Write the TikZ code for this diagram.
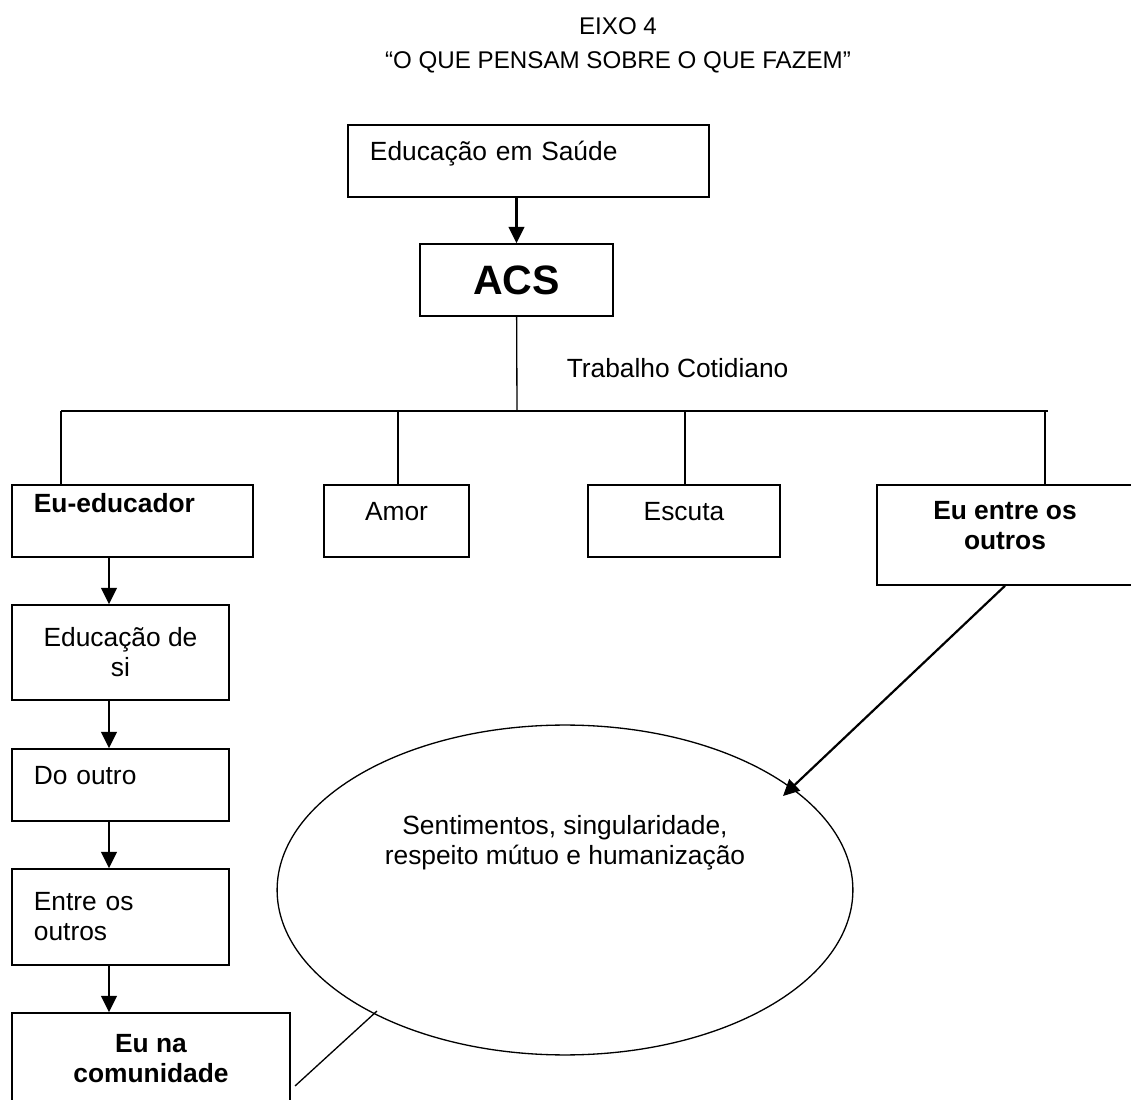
\documentclass[tikz,border=0pt]{standalone}
\usepackage{fontspec}
\setmainfont{Liberation Sans}
\usetikzlibrary{arrows.meta,shapes.geometric}

\begin{document}
\begin{tikzpicture}[x=0.016cm,y=-0.016cm,
    every node/.style={font=\fontsize{12}{13.7}\selectfont},
    box/.style={draw,line width=0.75pt,inner xsep=0.35cm,inner ysep=0pt,minimum height=1.152cm},
    upper/.style={text height=0.3cm,text depth=0.3cm},
    arr/.style={-{Triangle[length=0.26cm,width=0.25cm]},line width=1pt},
    tree/.style={line width=0.6pt}]
  \useasboundingbox (0,0) rectangle (1131,1100);

  % title
  \node (eixo) at (618,26) {\fontsize{11}{13}\selectfont EIXO 4};
  \node (tema) at (618,62) {\fontsize{11}{13}\selectfont “O QUE PENSAM SOBRE O QUE FAZEM”};

  % top of the tree
  \node[box,upper,align=left,text width=5.076cm] (saude) at (528.5,161) {Educação em Saúde};
  \node[box,minimum width=3.088cm] (acs) at (516.5,280) {\fontsize{18.7}{22}\selectfont\bfseries ACS};
  \node[anchor=west] (trab) at (559,368) {Trabalho Cotidiano};

  % second row
  \node[box,align=left,text width=3.156cm,text height=0.2cm,text depth=0.456cm] (educador) at (132.5,521) {\bfseries Eu-educador};
  \node[box,upper,minimum width=2.32cm] (amor) at (396.5,521) {Amor};
  \node[box,upper,minimum width=3.072cm] (escuta) at (684,521) {Escuta};
  \node[box,align=center,minimum width=4.096cm,minimum height=1.6cm,text height=0.784cm,text depth=0.304cm] (entre) at (1005,535) {\bfseries Eu entre os\\\bfseries outros};

  % left column
  \node[box,align=center,minimum width=3.472cm,minimum height=1.52cm] (educsi) at (120.5,652.5) {Educação de\\si};
  \node[box,upper,align=left,text width=2.772cm] (dooutro) at (120.5,785) {Do outro};
  \node[box,align=left,text width=2.772cm,minimum height=1.536cm] (entreos) at (120.5,917) {Entre os\\outros};
  \node[box,align=center,minimum width=4.448cm,minimum height=1.472cm] (comunidade) at (151,1059) {\bfseries Eu na\\\bfseries comunidade};

  % ellipse
  \node[draw,ellipse,line width=0.6pt,inner sep=0pt,minimum width=9.216cm,minimum height=5.28cm] (sent) at (565,890) {};
  \node[align=center] (senttxt) at (565,843) {Sentimentos, singularidade,\\respeito mútuo e humanização};

  % connectors
  \draw[arr] (acs.north |- saude.south) -- (acs.north);
  \coordinate (hub) at (517,411);
  \coordinate (barL) at (61,411);
  \coordinate (barR) at (1048,411);
  \draw[tree] (acs) -- (hub);
  \draw[tree] (barL) -- (barR);
  \foreach \xx/\nm in {61/educador,398/amor,685/escuta,1045/entre}{
    \coordinate (drop) at (\xx,411);
    \draw[tree] (drop) -- (drop |- \nm.north);
  }
  \coordinate (spine) at (109,0);
  \foreach \a/\b in {educador/educsi,educsi/dooutro,dooutro/entreos,entreos/comunidade}{
    \draw[arr] (spine |- \a.south) -- (spine |- \b.north);
  }
  \coordinate (tipE) at (783,796);
  \draw[arr] (entre.south) -- (tipE);
  \coordinate (ctail) at (295,1086);
  \coordinate (chead) at (377,1011);
  \draw[tree] (ctail) -- (chead);
\end{tikzpicture}
\end{document}
